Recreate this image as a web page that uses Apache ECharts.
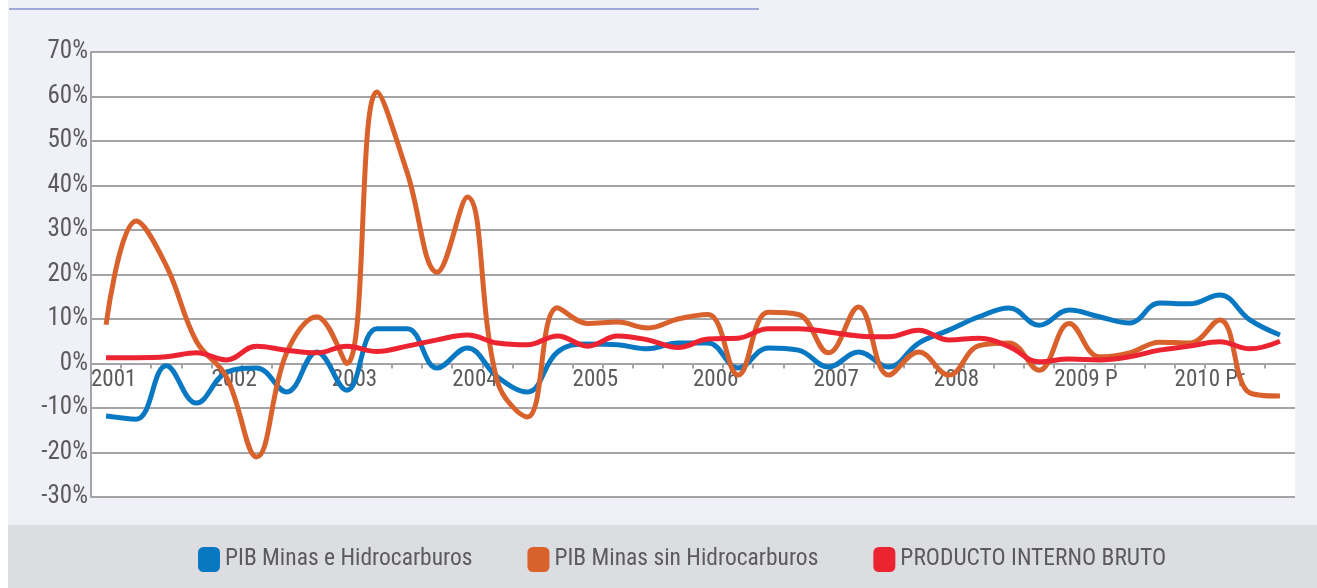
<!DOCTYPE html>
<html>
<head>
<meta charset="utf-8">
<script src="https://cdn.jsdelivr.net/npm/echarts@6/dist/echarts.min.js"></script>
<style>
html,body{margin:0;padding:0;background:#ffffff;}
#chart{width:1317px;height:588px;}
</style>
</head>
<body>
<div id="chart"></div>
<script>
// Quarterly growth, 2001 Q1 .. 2010 Q4
const years = ['2001','2002','2003','2004','2005','2006','2007','2008','2009 P','2010 Pr'];
const quarters = [];
years.forEach(y => { for (let q = 1; q <= 4; q++) quarters.push(y + ' T' + q); });

const yTicks = [-30, -20, -10, 0, 10, 20, 30, 40, 50, 60, 70];

const minasHidro = [-11.8, -12.5, -0.5, -8.9, -2, -1, -6.4, 2.6, -6, 7.8, 7.8, -1,
  3.5, -3, -6.4, 2.6, 4.4, 4.2, 3.3, 4.6, 4.6, -1, 3.5, 3, -0.8, 2.6, -0.8, 4.6,
  7.5, 10.5, 12.5, 8.6, 12, 10.5, 9.1, 13.6, 13.4, 15.4, 9.8, 6.4];

const minasSinHidro = [8.7, 32, 22, 5, -3, -21, 2.4, 10.5, 0, 61, 43, 20.5,
  37.4, -4, -12, 12.5, 9, 9.3, 8, 10, 11, -2.6, 11.5, 11, 2.4, 12.7, -2.6, 2.6,
  -2.6, 4, 4.6, -1.5, 9, 1.5, 2.4, 4.8, 4.6, 9.8, -6.6, -7.3];

const pib = [1.3, 1.3, 1.5, 2.4, 0.8, 3.9, 3, 2.4, 3.9, 2.7, 3.9, 5.3,
  6.4, 4.6, 4.2, 6.2, 3.9, 6.2, 5.3, 3.6, 5.5, 5.7, 7.8, 7.8, 7.1, 6.2, 6, 7.5,
  5.3, 5.7, 3.8, 0.4, 1, 0.8, 1.5, 3, 3.9, 4.9, 3.3, 5];

const seriesNames = ['PIB Minas e Hidrocarburos', 'PIB Minas sin Hidrocarburos', 'PRODUCTO INTERNO BRUTO'];
const seriesColors = ['#0878c2', '#d9612c', '#ec2330'];

const FONT = "'Roboto Condensed', 'Liberation Sans Narrow', sans-serif";
const TEXT = '#5b5b5d';
const GRIDC = '#a4a4a6';

const chart = echarts.init(document.getElementById('chart'), null, {renderer: 'canvas'});

const toXY = arr => arr.map((v, i) => [i + 0.5, v]);

// grid geometry (px) used to put the year axis on the 0% line
const GRID_TOP = 52, GRID_BOTTOM = 91, CH = 588;
const plotH = CH - GRID_TOP - GRID_BOTTOM;
const zeroOffset = plotH * (0 - yTicks[0]) / (yTicks[yTicks.length - 1] - yTicks[0]);

chart.setOption({
  animation: false,
  backgroundColor: '#ffffff',
  graphic: [
    {type: 'rect', left: 8, top: 0, shape: {width: 1309, height: 525}, style: {fill: '#eff0f8'}, z: -10, silent: true},
    {type: 'rect', left: 8, top: 525, shape: {width: 1309, height: 63}, style: {fill: '#dcdde0'}, z: -10, silent: true},
    {type: 'line', shape: {x1: 9, y1: 9, x2: 759, y2: 9}, style: {stroke: '#9ea9d8', lineWidth: 2}, z: -5, silent: true}
  ],
  grid: {left: 91, right: 22, top: GRID_TOP, bottom: GRID_BOTTOM, show: true, backgroundColor: '#ffffff', borderWidth: 0},
  legend: {
    left: 198, top: 547, padding: 0,
    itemWidth: 22, itemHeight: 25, itemGap: 55,
    icon: 'roundRect',
    textStyle: {fontFamily: FONT, fontSize: 23.5, color: TEXT},
    data: seriesNames
  },
  xAxis: {
    type: 'value', min: 0, max: quarters.length, interval: 1,
    position: 'bottom', offset: -zeroOffset,
    axisLine: {show: true, onZero: false, lineStyle: {color: GRIDC, width: 2}},
    axisTick: {show: true, length: 5, lineStyle: {color: GRIDC, width: 2}},
    splitLine: {show: false},
    axisLabel: {
      show: true, align: 'left', margin: 5,
      fontFamily: FONT, fontSize: 23, color: TEXT,
      showMaxLabel: false,
      formatter: v => (v % 4 === 0 && v / 4 < years.length) ? years[v / 4] : ''
    }
  },
  yAxis: {
    type: 'value', min: yTicks[0], max: yTicks[yTicks.length - 1], interval: 10,
    axisLine: {show: true, lineStyle: {color: GRIDC, width: 2}},
    axisTick: {show: false},
    splitLine: {show: true, lineStyle: {color: GRIDC, width: 2}},
    axisLabel: {
      margin: 3, fontFamily: FONT, fontSize: 25, color: TEXT,
      formatter: '{value}%'
    }
  },
  series: [
    {name: seriesNames[0], type: 'line', data: toXY(minasHidro)},
    {name: seriesNames[1], type: 'line', data: toXY(minasSinHidro)},
    {name: seriesNames[2], type: 'line', data: toXY(pib)}
  ].map((s, i) => Object.assign(s, {
    smooth: 0.4, showSymbol: false, symbol: 'none',
    color: seriesColors[i],
    itemStyle: {color: seriesColors[i]},
    lineStyle: {color: seriesColors[i], width: 5}
  }))
});
</script>
</body>
</html>
